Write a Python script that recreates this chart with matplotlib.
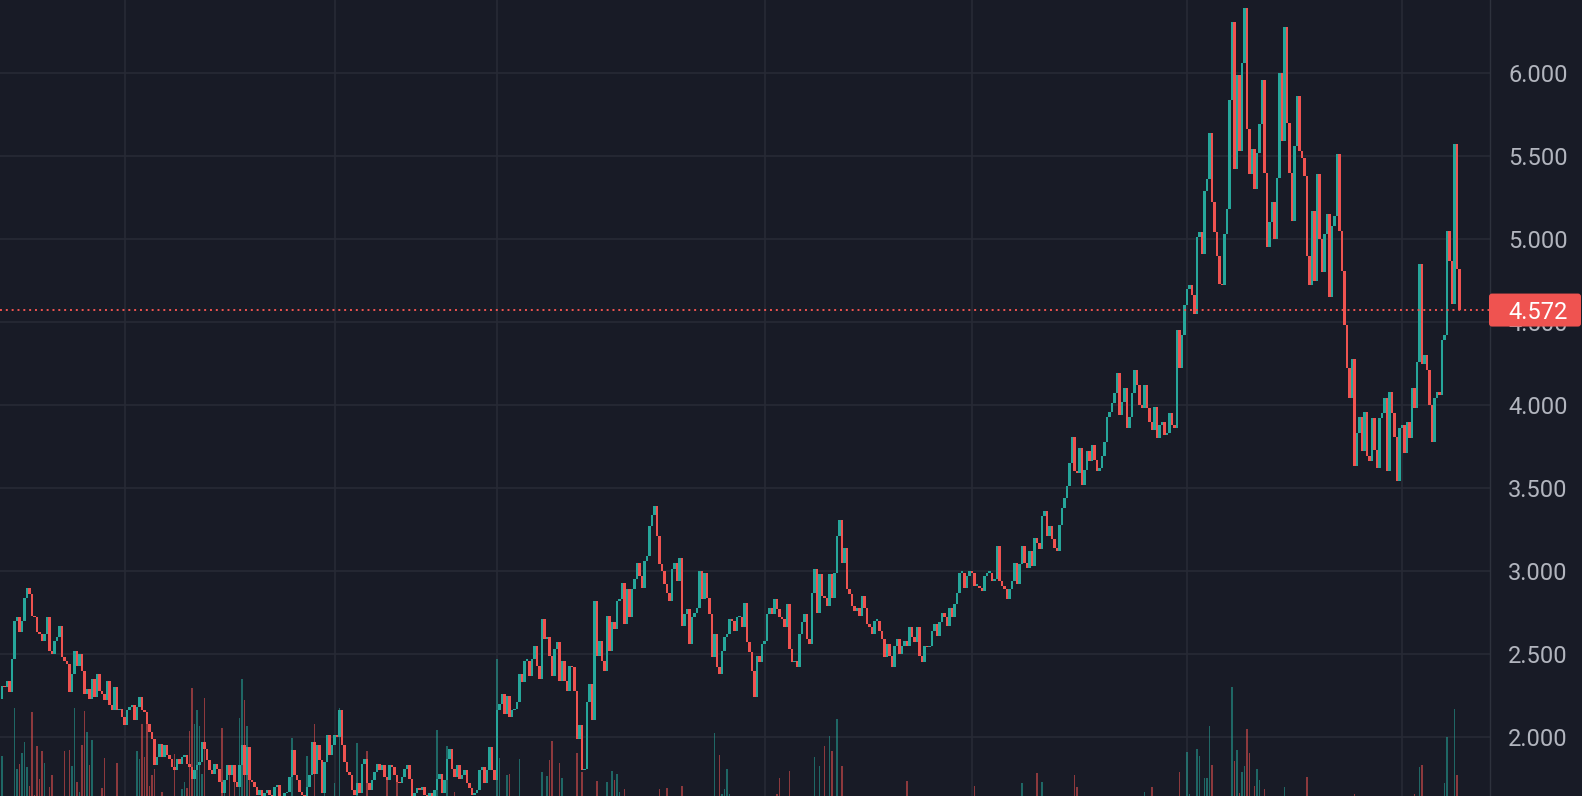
import matplotlib
matplotlib.use("Agg")
import matplotlib.pyplot as plt
from matplotlib.patches import FancyBboxPatch
from matplotlib.transforms import IdentityTransform
from matplotlib.ticker import FuncFormatter
import numpy as np

plt.rcParams['font.family'] = ['Roboto', 'DejaVu Sans']

BG = "#181b26"
GRID = "#272a35"
UP = "#26a69a"
DOWN = "#ef5350"
TXT = "#b2b5be"

# daily closes, oldest first (open = previous close)
first_open = 2.23
closes = [
    2.31, 2.30, 2.34, 2.27, 2.47, 2.70, 2.72, 2.63, 2.70, 2.84,
    2.90, 2.86, 2.73, 2.72, 2.63, 2.62, 2.58, 2.62, 2.72, 2.52,
    2.50, 2.58, 2.60, 2.67, 2.48, 2.46, 2.44, 2.27, 2.38, 2.52,
    2.43, 2.50, 2.40, 2.26, 2.29, 2.23, 2.35, 2.24, 2.38, 2.28,
    2.26, 2.22, 2.34, 2.19, 2.16, 2.30, 2.16, 2.17, 2.12, 2.07,
    2.16, 2.18, 2.19, 2.10, 2.18, 2.24, 2.16, 2.15, 2.08, 2.03,
    1.99, 1.83, 1.88, 1.96, 1.88, 1.95, 1.89, 1.87, 1.82, 1.80,
    1.87, 1.84, 1.88, 1.89, 1.84, 1.82, 1.75, 1.80, 1.83, 1.85,
    1.97, 1.93, 1.86, 1.80, 1.78, 1.84, 1.81, 1.73, 1.66, 1.74,
    1.83, 1.77, 1.83, 1.73, 1.70, 1.83, 1.95, 1.77, 1.94, 1.74,
    1.73, 1.70, 1.65, 1.68, 1.64, 1.66, 1.68, 1.65, 1.63, 1.70,
    1.71, 1.64, 1.62, 1.66, 1.67, 1.76, 1.92, 1.77, 1.74, 1.67,
    1.65, 1.63, 1.70, 1.77, 1.97, 1.78, 1.95, 1.86, 1.66, 1.85,
    2.01, 1.89, 1.95, 2.01, 2.00, 2.16, 1.95, 1.85, 1.79, 1.77,
    1.68, 1.65, 1.72, 1.66, 1.84, 1.87, 1.72, 1.68, 1.74, 1.79,
    1.84, 1.80, 1.83, 1.76, 1.74, 1.83, 1.82, 1.77, 1.73, 1.72,
    1.76, 1.81, 1.83, 1.75, 1.64, 1.66, 1.69, 1.68, 1.70, 1.65,
    1.64, 1.66, 1.63, 1.68, 1.75, 1.78, 1.66, 1.74, 1.87, 1.93,
    1.81, 1.76, 1.83, 1.75, 1.77, 1.80, 1.72, 1.69, 1.65, 1.66,
    1.68, 1.80, 1.82, 1.72, 1.80, 1.94, 1.80, 1.74, 2.16, 2.20,
    2.26, 2.14, 2.25, 2.12, 2.16, 2.17, 2.21, 2.38, 2.33, 2.46,
    2.46, 2.37, 2.47, 2.55, 2.43, 2.35, 2.71, 2.59, 2.60, 2.49,
    2.37, 2.53, 2.57, 2.34, 2.46, 2.34, 2.28, 2.43, 2.42, 2.28,
    1.99, 2.07, 1.80, 1.81, 2.21, 2.32, 2.10, 2.82, 2.49, 2.58,
    2.46, 2.40, 2.73, 2.52, 2.69, 2.65, 2.82, 2.83, 2.93, 2.68,
    2.89, 2.72, 2.89, 2.95, 3.05, 2.97, 2.90, 3.06, 3.09, 3.27,
    3.34, 3.39, 3.21, 3.04, 3.00, 2.92, 2.87, 2.82, 3.01, 3.05,
    2.94, 3.08, 2.67, 2.74, 2.77, 2.56, 2.72, 2.75, 2.78, 3.00,
    2.83, 2.99, 2.84, 2.74, 2.48, 2.62, 2.42, 2.38, 2.52, 2.60,
    2.62, 2.71, 2.70, 2.64, 2.72, 2.72, 2.66, 2.81, 2.57, 2.51,
    2.40, 2.24, 2.49, 2.45, 2.56, 2.58, 2.74, 2.78, 2.74, 2.83,
    2.77, 2.72, 2.71, 2.66, 2.80, 2.53, 2.45, 2.46, 2.42, 2.62,
    2.69, 2.74, 2.59, 2.56, 2.87, 3.01, 2.75, 2.98, 2.85, 2.84,
    2.79, 2.98, 2.84, 2.99, 3.21, 3.31, 3.05, 3.14, 2.89, 2.86,
    2.79, 2.76, 2.78, 2.73, 2.85, 2.78, 2.68, 2.66, 2.62, 2.70,
    2.70, 2.64, 2.59, 2.48, 2.56, 2.49, 2.42, 2.55, 2.59, 2.50,
    2.55, 2.58, 2.55, 2.66, 2.60, 2.57, 2.66, 2.49, 2.45, 2.55,
    2.54, 2.55, 2.64, 2.68, 2.61, 2.69, 2.75, 2.72, 2.67, 2.78,
    2.72, 2.80, 2.87, 2.99, 2.99, 2.90, 2.97, 3.00, 2.99, 2.91,
    2.91, 2.90, 2.88, 2.97, 2.99, 2.99, 2.94, 2.95, 3.15, 2.94,
    2.91, 2.89, 2.83, 2.89, 2.94, 3.05, 2.92, 3.04, 3.15, 3.05,
    3.02, 3.12, 3.03, 3.20, 3.17, 3.13, 3.33, 3.36, 3.21, 3.27,
    3.19, 3.14, 3.12, 3.28, 3.38, 3.44, 3.51, 3.65, 3.81, 3.60,
    3.59, 3.74, 3.52, 3.61, 3.72, 3.66, 3.76, 3.67, 3.60, 3.62,
    3.69, 3.78, 3.93, 3.96, 4.01, 4.07, 4.19, 3.94, 4.02, 4.10,
    3.86, 3.93, 4.07, 4.21, 4.12, 4.00, 3.98, 4.12, 3.98, 3.90,
    3.85, 3.99, 3.80, 3.88, 3.90, 3.82, 3.83, 3.95, 3.88, 3.86,
    4.45, 4.22, 4.42, 4.60, 4.70, 4.72, 4.66, 4.55, 5.01, 5.04,
    4.91, 5.29, 5.36, 5.64, 5.22, 5.04, 4.90, 4.73, 4.72, 5.03,
    5.18, 5.84, 6.31, 5.42, 5.99, 5.53, 6.06, 6.39, 5.66, 5.39,
    5.54, 5.30, 5.52, 5.69, 5.96, 5.40, 4.95, 5.10, 5.22, 5.00,
    5.37, 6.00, 5.59, 6.28, 5.70, 5.40, 5.11, 5.56, 5.86, 5.53,
    5.49, 5.38, 4.90, 4.72, 5.17, 4.75, 5.39, 5.00, 4.80, 5.03,
    5.15, 4.65, 5.08, 5.14, 5.51, 5.05, 4.81, 4.48, 4.22, 4.04,
    4.28, 3.63, 3.83, 3.93, 3.72, 3.96, 3.69, 3.66, 3.92, 3.73,
    3.62, 3.92, 3.95, 4.04, 3.60, 4.08, 3.95, 3.81, 3.54, 3.86,
    3.88, 3.71, 3.90, 3.80, 4.10, 3.98, 4.26, 4.85, 4.25, 4.30,
    4.21, 4.00, 3.78, 4.04, 4.08, 4.06, 4.39, 4.42, 5.05, 4.87,
    4.61, 5.57, 4.82, 4.572,
]

# volume (thousands) for the bars that rise above the bottom edge
vol_idx = [0, 5, 6, 7, 8, 9, 10, 11, 12, 13, 14, 15, 16, 17, 19, 20, 25, 27, 28, 29,
           30, 31, 32, 33, 34, 35, 36, 40, 41, 46, 54, 55, 56, 57, 58, 59, 60, 61, 64, 69,
           72, 73, 74, 75, 76, 77, 78, 79, 80, 81, 88, 89, 91, 93, 95, 96, 97, 98, 99, 116,
           122, 125, 129, 133, 135, 142, 146, 154, 158, 174, 178, 181, 198, 199, 202, 203, 207, 216, 218, 219,
           220, 223, 224, 230, 232, 238, 242, 244, 245, 246, 247, 249, 263, 266, 272, 285, 287, 288, 289, 290,
           291, 310, 311, 315, 325, 327, 329, 331, 332, 334, 336, 362, 389, 408, 414, 416, 429, 430, 457, 460,
           471, 474, 475, 478, 479, 481, 482, 483, 484, 492, 493, 494, 495, 496, 497, 498, 499, 501, 502, 503,
           505, 513, 522, 541, 565, 567, 568, 577, 578, 581, 582]
vol = [800, 1280, 670, 720, 830, 940, 690, 500, 1240, 410, 900, 570, 850, 730, 490, 610, 850, 860, 700, 1280,
       540, 440, 910, 1250, 1040, 710, 960, 480, 780, 730, 850, 770, 1120, 790, 1120, 500, 610, 670, 440, 820,
       470, 540, 480, 1050, 1480, 1120, 1260, 1100, 620, 1380, 1080, 460, 610, 650, 1180, 1570, 1360, 1100, 650, 980,
       800, 1120, 700, 530, 1280, 930, 850, 580, 580, 1060, 900, 440, 1770, 780, 610, 620, 770, 640, 600, 760,
       950, 730, 580, 830, 640, 550, 540, 650, 560, 620, 440, 470, 470, 480, 500, 1030, 810, 420, 470, 670,
       420, 420, 580, 650, 790, 700, 900, 1000, 850, 1170, 700, 550, 500, 530, 630, 540, 610, 490, 440, 490,
       640, 840, 420, 870, 800, 580, 580, 1100, 710, 1490, 750, 860, 430, 640, 700, 1070, 830, 500, 670, 560,
       470, 490, 590, 420, 420, 690, 710, 530, 990, 1270, 610]

# candle index of the time-scale grid lines
time_ticks = [49, 133, 198, 305, 388, 474, 560]
price_ticks = [2.0, 2.5, 3.0, 3.5, 4.0, 4.5, 5.0, 5.5, 6.0]

closes = np.array(closes)
opens = np.concatenate([[first_open], closes[:-1]])
n = len(closes)
x = np.arange(n)
up = closes >= opens
colors = np.where(up, UP, DOWN)
bottoms = np.minimum(opens, closes)
heights = np.maximum(np.abs(closes - opens), 0.01)

fig = plt.figure(figsize=(15.82, 7.96), dpi=100)
fig.patch.set_facecolor(BG)
rect = [0, 0, 1490 / 1582, 1]

ax = fig.add_axes(rect)    # grid and price scale
axv = fig.add_axes(rect)   # volume
axc = fig.add_axes(rect)   # candles

ylo, yhi = 1.6446, 6.4398
for a in (ax, axv, axc):
    a.set_xlim(-0.8, 595.2)
ax.set_ylim(ylo, yhi)
axc.set_ylim(ylo, yhi)
axv.set_ylim(400, 8360)

ax.set_facecolor(BG)
axv.set_facecolor('none')
axc.set_facecolor('none')
axv.axis('off')
axc.axis('off')

ax.set_xticks(time_ticks)
ax.set_yticks(price_ticks)
ax.grid(True, color=GRID, linewidth=1.2)
ax.yaxis.set_major_formatter(FuncFormatter(lambda v, p: f"{v:.3f}"))
ax.tick_params(axis='x', length=0, labelbottom=False)
ax.tick_params(axis='y', length=0, left=False, right=False, labelleft=False,
               labelright=True, pad=13, labelsize=17, labelcolor=TXT)
for side in ('top', 'left', 'bottom'):
    ax.spines[side].set_visible(False)
ax.spines['right'].set_color('#2e323d')
ax.spines['right'].set_linewidth(1.0)

# volume
vol_idx = np.array(vol_idx)
vol_col = np.where(up[vol_idx], UP, DOWN)
axv.bar(vol_idx, vol, width=0.45, color=vol_col, alpha=0.55, linewidth=0,
        antialiased=False)

# candles
axc.bar(x, heights, bottom=bottoms, width=0.85, color=colors, linewidth=0,
        antialiased=False)

# last price line and label
last = closes[-1]
axc.axhline(last, color=DOWN, linewidth=1.4, linestyle=(0, (1, 2)))

y_px = (last - ylo) / (yhi - ylo) * 796
box = FancyBboxPatch((1489, y_px - 16.5), 92, 33,
                     boxstyle="round,pad=0,rounding_size=3",
                     facecolor=DOWN, edgecolor='none', transform=IdentityTransform())
fig.add_artist(box)
fig.text(1508 / 1582, y_px / 796, f"{last:.3f}", color='white', fontsize=17,
         ha='left', va='center_baseline')

fig.savefig("out.png", dpi=100, facecolor=BG)
